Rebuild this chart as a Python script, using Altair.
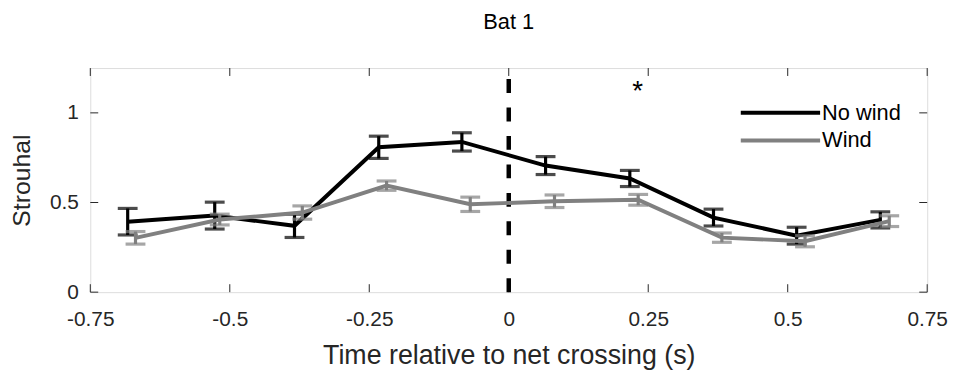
import altair as alt
import pandas as pd

# ---- data ----
series_names = ["No wind", "Wind"]
series_colors = ["#000000", "#808080"]

no_wind_t = [-0.683, -0.527, -0.384, -0.233, -0.084, 0.066, 0.217, 0.367, 0.516, 0.666]
no_wind_mean = [0.393, 0.427, 0.370, 0.808, 0.838, 0.706, 0.634, 0.416, 0.315, 0.403]
no_wind_err = [0.074, 0.075, 0.065, 0.062, 0.051, 0.050, 0.045, 0.047, 0.047, 0.045]

wind_t = [-0.669, -0.518, -0.370, -0.219, -0.069, 0.082, 0.232, 0.382, 0.531, 0.682]
wind_mean = [0.303, 0.405, 0.444, 0.594, 0.490, 0.507, 0.515, 0.304, 0.284, 0.396]
wind_err = [0.035, 0.030, 0.037, 0.026, 0.040, 0.035, 0.030, 0.026, 0.031, 0.030]

x_ticks = [-0.75, -0.5, -0.25, 0, 0.25, 0.5, 0.75]
x_tick_labels = ["-0.75", "-0.5", "-0.25", "0", "0.25", "0.5", "0.75"]
y_ticks = [0, 0.5, 1]
y_tick_labels = ["0", "0.5", "1"]
x_domain = [-0.75, 0.75]
y_domain = [0, 1.25]

net_crossing_t = [0]
star_t = [0.231]
star_y = [1.074]
star_text = ["*"]
chart_title = ["Bat 1"]

FONT = "Liberation Sans"
AXC = "#262626"
W, H = 844, 226
TICK = 8


def label_expr(vals, labels):
    e = "''"
    for v, l in reversed(list(zip(vals, labels))):
        e = f"datum.value == {v} ? '{l}' : ({e})"
    return e


xscale = alt.Scale(domain=x_domain, nice=False, zero=False)
yscale = alt.Scale(domain=y_domain, nice=False, zero=False)

xaxis = alt.Axis(values=x_ticks, labelExpr=label_expr(x_ticks, x_tick_labels),
                 ticks=False, domain=False, grid=False, labelFlush=False,
                 labelOverlap=False, labelFontSize=21, labelColor=AXC,
                 labelPadding=17, titleFontSize=27, titleFontWeight="normal",
                 titleColor=AXC, titlePadding=13, labelFont=FONT, titleFont=FONT)
yaxis = alt.Axis(values=y_ticks, labelExpr=label_expr(y_ticks, y_tick_labels),
                 ticks=False, domain=False, grid=False, labelFlush=False,
                 labelOverlap=False, labelFontSize=21, labelColor=AXC,
                 labelPadding=12, titleFontSize=25, titleFontWeight="normal",
                 titleColor=AXC, titlePadding=15, labelFont=FONT, titleFont=FONT)

XT = "Time relative to net crossing (s)"
YT = "Strouhal"


def X(f):
    return alt.X(f, type="quantitative", scale=xscale, axis=xaxis, title=XT)


def Y(f):
    return alt.Y(f, type="quantitative", scale=yscale, axis=yaxis, title=YT)


cscale = alt.Scale(domain=series_names, range=series_colors)
legend = alt.Legend(orient="none", legendX=654, legendY=31, title=None,
                    symbolType="stroke", symbolSize=6400, symbolStrokeWidth=4,
                    labelFontSize=22, labelColor="#000000", labelFont=FONT,
                    clipHeight=28, rowPadding=0, labelOffset=0, padding=0,
                    symbolOffset=0)


def series_layers(name, color, ts, means, errs):
    df = pd.DataFrame({
        "t": ts, "mean": means,
        "lo": [m - e for m, e in zip(means, errs)],
        "hi": [m + e for m, e in zip(means, errs)],
        "series": [name] * len(ts),
    })
    caps = pd.DataFrame({"t": ts + ts, "cap": list(df["lo"]) + list(df["hi"])})
    bars = alt.Chart(df).mark_rule(strokeWidth=3.2, color=color).encode(
        x=X("t"), y=Y("lo"), y2="hi")
    capm = alt.Chart(caps).mark_tick(orient="horizontal", size=20, thickness=3.2,
                                     color=color).encode(x=X("t"), y=Y("cap"))
    line = alt.Chart(df).mark_line(strokeWidth=4).encode(
        x=X("t"), y=Y("mean"),
        color=alt.Color("series:N", scale=cscale, legend=legend))
    return [bars, capm, line]


# inward axis ticks on all four sides
xt_df = pd.DataFrame({"t": x_ticks})
yt_df = pd.DataFrame({"v": y_ticks})
tick_b = alt.Chart(xt_df).mark_rule(color=AXC, strokeWidth=1).encode(
    x=X("t"), y=alt.value(H), y2=alt.value(H - TICK))
tick_t = alt.Chart(xt_df).mark_rule(color=AXC, strokeWidth=1).encode(
    x=X("t"), y=alt.value(0), y2=alt.value(TICK))
tick_l = alt.Chart(yt_df).mark_rule(color=AXC, strokeWidth=1).encode(
    y=Y("v"), x=alt.value(0), x2=alt.value(TICK))
tick_r = alt.Chart(yt_df).mark_rule(color=AXC, strokeWidth=1).encode(
    y=Y("v"), x=alt.value(W), x2=alt.value(W - TICK))

vl_df = pd.DataFrame({"t": net_crossing_t, "lo": [y_domain[0]], "hi": [y_domain[1]]})
vline = alt.Chart(vl_df).mark_rule(color="#000000", strokeWidth=4.5,
                                   strokeDash=[14, 14.7]).encode(
    x=X("t"), y=Y("lo"), y2="hi")

star_df = pd.DataFrame({"t": star_t, "y": star_y, "txt": star_text})
star = alt.Chart(star_df).mark_text(fontSize=28, font=FONT, color="#000000",
                                    baseline="alphabetic", align="center").encode(
    x=X("t"), y=Y("y"), text="txt:N")

title_df = pd.DataFrame({"txt": chart_title})
title = alt.Chart(title_df).mark_text(fontSize=22, font=FONT, color="#000000",
                                      baseline="alphabetic", align="center").encode(
    x=alt.value(W / 2), y=alt.value(-39), text="txt:N")

layers = [tick_b, tick_t, tick_l, tick_r, vline]
layers += series_layers(series_names[0], series_colors[0], no_wind_t, no_wind_mean, no_wind_err)
layers += series_layers(series_names[1], series_colors[1], wind_t, wind_mean, wind_err)
layers += [star, title]

chart = alt.layer(*layers).properties(
    width=W, height=H,
    padding={"left": 83, "top": 59, "right": 23, "bottom": 82},
    autosize=alt.AutoSizeParams(type="none"),
).configure_view(stroke=AXC, strokeWidth=1).configure(font=FONT)

chart.save("out.html", embed_options={"renderer": "svg", "actions": False})
